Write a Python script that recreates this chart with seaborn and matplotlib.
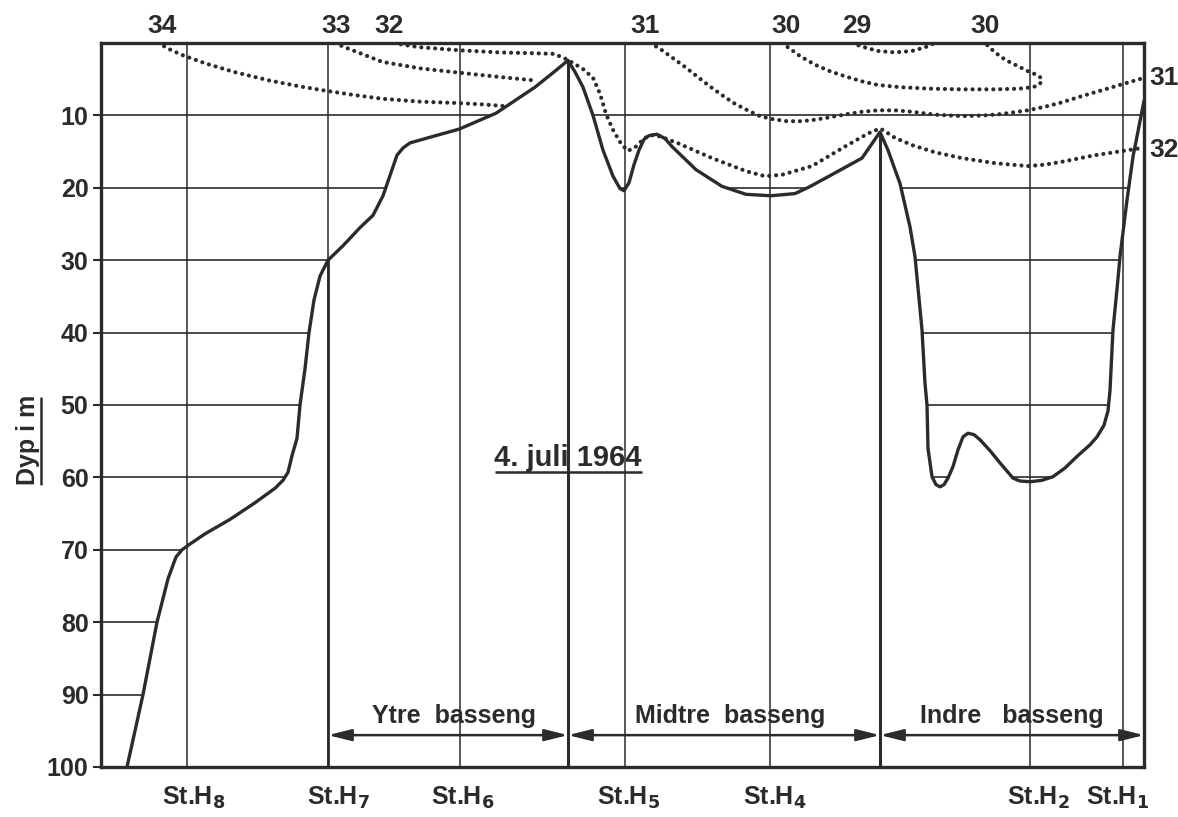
import numpy as np
import matplotlib
matplotlib.use("Agg")
import matplotlib.pyplot as plt
from matplotlib.patches import Polygon
from matplotlib.lines import Line2D
import seaborn as sns

sns.set_theme(style="white")
plt.rcParams["font.family"] = ["Liberation Sans Narrow", "Liberation Sans", "DejaVu Sans"]
plt.rcParams["font.weight"] = "bold"

INK = "#2b2b2b"

# section distance (arbitrary units along the fjord) and depth in m
BOTTOM_X = [127, 143, 157, 168, 176, 182, 190, 205, 230, 255, 275, 283, 288, 292, 297,
            300, 305, 309, 314, 320, 328, 343, 360, 373, 383, 391, 397, 403, 410, 433,
            459, 496, 535, 554, 568,
            575, 583, 593, 603, 613, 620, 624, 629, 634, 639, 644, 649, 657, 665, 672,
            696, 722, 746, 771, 795, 809, 829, 862, 872, 880,
            888, 895, 900, 910, 915, 922, 925, 927, 928, 932, 936, 940, 944, 948, 953,
            958, 963, 968, 974, 980, 990, 1000, 1013, 1020, 1030, 1042, 1053, 1065, 1077,
            1090, 1097, 1104, 1108, 1110, 1113, 1117, 1120, 1127, 1133, 1139, 1144]
BOTTOM_DEPTH = [100, 90, 80, 74, 71, 70, 69.2, 67.8, 65.8, 63.5, 61.5, 60.4, 59.3, 57, 54.6,
                50, 45, 40, 35.5, 32.2, 30, 28, 25.5, 23.8, 21.1, 17.9, 15.5, 14.5, 13.8, 12.9,
                11.9, 9.7, 6.1, 4.0, 2.4,
                4.0, 6.1, 10, 14.8, 18.4, 20.1, 20.4, 19.3, 16.8, 14.8, 13.3, 12.8, 12.6, 13.2, 14.3,
                17.5, 19.8, 20.9, 21.1, 20.8, 19.9, 18.4, 15.9, 13.9, 12.3,
                14.8, 17.5, 19.4, 25.4, 29.5, 39.6, 47, 50, 56, 59.9, 61.0, 61.3, 61.0, 60.1, 58.5,
                56.2, 54.4, 53.9, 54.1, 54.8, 56.3, 58, 60.1, 60.5, 60.6, 60.4, 59.9, 58.7, 57.1,
                55.5, 54.4, 52.8, 50.8, 48, 39.6, 34, 29.5, 21.7, 15.7, 11.5, 8]

# isohalines (salinity, o/oo)
ISO34_X = [158, 170, 183, 205, 234, 270, 300, 326, 355, 382, 420, 459, 485, 503]
ISO34_D = [0, 0.9, 1.7, 2.8, 4.0, 5.2, 6.0, 6.6, 7.2, 7.7, 8.1, 8.3, 8.5, 8.7]

ISO33_X = [335, 345, 360, 382, 420, 459, 500, 537]
ISO33_D = [0, 0.6, 1.4, 2.6, 3.5, 4.1, 4.7, 5.2]

ISO32_X = [394, 410, 421, 459, 499, 530, 554, 566, 576, 583, 593, 600, 606, 613, 621, 628,
           636, 644, 650, 660, 679, 712, 746, 765, 782, 812, 845, 868, 880,
           885, 895, 912, 935, 962, 995, 1028, 1045, 1062, 1095, 1128, 1142]
ISO32_D = [0, 0.4, 0.6, 1.0, 1.3, 1.4, 1.5, 2.2, 3.0, 3.6, 4.8, 7.0, 9.8, 12.0, 13.9, 14.9,
           14.3, 13.2, 12.7, 12.9, 13.9, 15.9, 17.7, 18.4, 18.2, 17.0, 14.3, 12.5, 11.8,
           12.2, 13.1, 14.1, 15.1, 15.9, 16.6, 17.0, 16.8, 16.4, 15.5, 14.8, 14.5]

ISO31_X = [650, 660, 672, 684, 696, 709, 722, 735, 749, 760, 772, 787, 802, 815, 828, 848,
           862, 878, 895, 912, 935, 962, 985, 1002, 1028, 1045, 1062, 1078, 1095, 1110,
           1122, 1142]
ISO31_D = [0, 0.8, 2.0, 3.2, 4.5, 5.9, 7.2, 8.4, 9.4, 10.1, 10.5, 10.8, 10.8, 10.6, 10.3, 9.8,
           9.5, 9.3, 9.3, 9.5, 9.9, 10.1, 10.0, 9.8, 9.3, 8.8, 8.2, 7.5, 6.8, 6.2, 5.7, 4.9]

ISO30_X = [782, 790, 800, 815, 830, 845, 862, 878, 900, 928, 962, 995, 1020, 1033, 1039,
           1042, 1040, 1035, 1028, 1018, 1005, 995, 985]
ISO30_D = [0, 0.8, 1.8, 3.0, 3.9, 4.6, 5.3, 5.8, 6.1, 6.3, 6.4, 6.4, 6.3, 6.1, 5.8,
           5.2, 4.7, 4.3, 3.9, 3.2, 2.3, 1.3, 0]

ISO29_X = [852, 862, 878, 895, 912, 925, 935]
ISO29_D = [0, 0.5, 1.1, 1.3, 1.1, 0.6, 0]

TOP_LABELS = ["34", "33", "32", "31", "30", "29", "30"]
TOP_LABEL_X = [162, 336, 389, 645, 786, 857, 985]
SIDE_LABELS = ["31", "32"]
SIDE_LABEL_D = [4.8, 14.8]

GRID_DEPTHS = [10, 20, 30, 40, 50, 60, 70, 80, 90]

STATIONS = ["8", "7", "6", "5", "4", "2", "1"]
STATION_X = [187, 328, 460, 625, 770, 1030, 1123]
STATION_LABEL_X = [194, 338, 463, 629, 775, 1038, 1118]

BASINS = ["Ytre  basseng", "Midtre  basseng", "Indre   basseng"]
BASIN_EDGES = [328, 568, 880, 1144]
BASIN_LABEL_X = [454, 730, 1012]

X_MIN, X_MAX = 101, 1144

fig = plt.figure(figsize=(11.78, 8.17), dpi=100)
ax = fig.add_axes([101 / 1178, 1 - 767 / 817, (1144 - 101) / 1178, (767 - 43) / 817])
ax.set_xlim(X_MIN, X_MAX)
ax.set_ylim(100, 0)

# water body, used to clip the depth lines
water = Polygon(list(zip([X_MIN] + BOTTOM_X + [X_MAX, X_MIN],
                         [100] + BOTTOM_DEPTH + [0, 0])),
                closed=True, facecolor="none", edgecolor="none", transform=ax.transData)
ax.add_patch(water)
grid = ax.hlines(GRID_DEPTHS, X_MIN, X_MAX, color=INK, lw=1.2)
grid.set_clip_path(water)

# station verticals
ax.vlines(STATION_X, 0, 100, color=INK, lw=1.1)
h7_depth = np.interp(BASIN_EDGES[0], BOTTOM_X, BOTTOM_DEPTH)
ax.vlines(BASIN_EDGES[0], h7_depth, 100, color=INK, lw=2.0)
sill_x = BASIN_EDGES[1:3]
sill_d = np.interp(sill_x, BOTTOM_X, BOTTOM_DEPTH)
ax.vlines(sill_x, sill_d, 100, color=INK, lw=2.2)

# bottom profile
sns.lineplot(x=BOTTOM_X, y=BOTTOM_DEPTH, ax=ax, color=INK, lw=2.4,
             sort=False, estimator=None)

# isohalines
dotted = dict(color=INK, lw=3.0, linestyle=(0, (0.01, 1.65)),
              dash_capstyle="round", sort=False, estimator=None)
for xs, ds in [(ISO34_X, ISO34_D), (ISO33_X, ISO33_D), (ISO32_X, ISO32_D),
               (ISO31_X, ISO31_D), (ISO30_X, ISO30_D), (ISO29_X, ISO29_D)]:
    sns.lineplot(x=xs, y=ds, ax=ax, **dotted)

for lab, xx in zip(TOP_LABELS, TOP_LABEL_X):
    ax.text(xx, -2.3, lab, ha="center", va="center", fontsize=19, color=INK, clip_on=False)
for lab, dd in zip(SIDE_LABELS, SIDE_LABEL_D):
    ax.text(X_MAX + 5, dd, lab, ha="left", va="center", fontsize=19, color=INK, clip_on=False)

# basin arrows
for i, name in enumerate(BASINS):
    ax.annotate("", xy=(BASIN_EDGES[i + 1], 95.6), xytext=(BASIN_EDGES[i], 95.6),
                arrowprops=dict(arrowstyle="<|-|>,head_length=1.0,head_width=0.25",
                                color=INK, lw=1.8, shrinkA=0, shrinkB=0,
                                mutation_scale=14))
    ax.text(BASIN_LABEL_X[i], 93.0, name, ha="center", va="center", fontsize=18, color=INK)

# station names
for name, xx in zip(STATIONS, STATION_LABEL_X):
    ax.text(xx, 104.2, r"St.H$_{\mathbf{%s}}$" % name, ha="center", va="center", fontsize=18,
            color=INK, clip_on=False)

# date
ax.text(568, 57.3, "4. juli 1964", ha="center", va="center", fontsize=21, color=INK)
ax.hlines(59.3, 495, 642, color=INK, lw=1.8)

# axes styling
ax.set_xticks([])
ax.set_yticks(GRID_DEPTHS + [100])
ax.set_yticklabels([str(d) for d in GRID_DEPTHS + [100]], fontsize=18, color=INK)
ax.tick_params(axis="y", direction="out", length=6, width=1.5, color=INK, left=True, pad=3)
for side in ["left", "right", "top", "bottom"]:
    ax.spines[side].set_color(INK)
    ax.spines[side].set_linewidth(2.4)

fig.text(28 / 1178, 1 - 440 / 817, "Dyp i m", rotation=90, ha="center", va="center",
         fontsize=18, color=INK)
fig.add_artist(Line2D([41 / 1178, 41 / 1178], [1 - 398 / 817, 1 - 484 / 817],
                      color=INK, lw=1.8, transform=fig.transFigure))

fig.savefig("out.png", dpi=100, facecolor="white")
